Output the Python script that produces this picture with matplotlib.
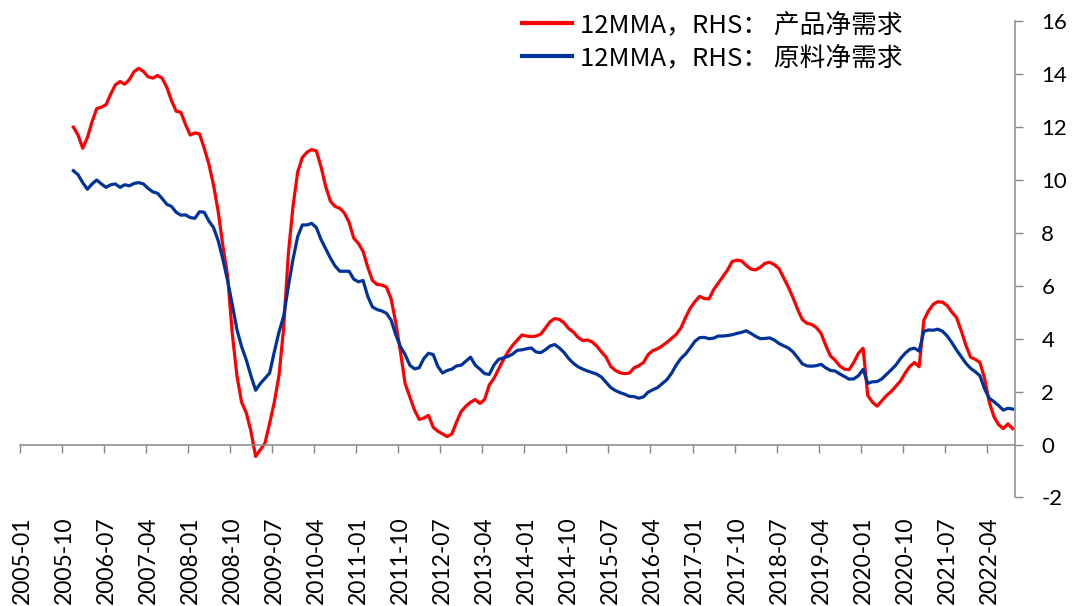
import matplotlib
matplotlib.use('Agg')
import matplotlib.pyplot as plt
import numpy as np
import pandas as pd

# 월별 데이터 (12MMA), 2005-12 ~ 2022-09
axis_start = '2005-01'
data_start = '2005-12'
data_end = '2022-09'

product_net = [
    12.0, 11.7, 11.2, 11.6, 12.2, 12.7, 12.75, 12.85, 13.25, 13.6,
    13.72, 13.62, 13.8, 14.1, 14.22, 14.1, 13.9, 13.85, 13.95, 13.85,
    13.5, 13.0, 12.6, 12.56, 12.1, 11.7, 11.78, 11.74, 11.2, 10.6,
    9.8, 8.8, 7.5, 6.4, 4.2, 2.6, 1.6, 1.2, 0.5, -0.45,
    -0.2, 0.05, 0.8, 1.6, 2.6, 4.4, 7.2, 9.0, 10.3, 10.85,
    11.05, 11.15, 11.1, 10.5, 9.75, 9.2, 9.0, 8.93, 8.75, 8.4,
    7.8, 7.6, 7.3, 6.7, 6.2, 6.05, 6.03, 5.95, 5.5, 4.6,
    3.5, 2.3, 1.8, 1.3, 0.95, 1.0, 1.1, 0.65, 0.5, 0.4,
    0.3, 0.4, 0.85, 1.25, 1.45, 1.6, 1.7, 1.55, 1.7, 2.25,
    2.5, 2.85, 3.2, 3.5, 3.75, 3.95, 4.14, 4.1, 4.08, 4.1,
    4.17, 4.4, 4.64, 4.76, 4.73, 4.6, 4.38, 4.25, 4.05, 3.93,
    3.95, 3.88, 3.72, 3.5, 3.3, 2.95, 2.8, 2.71, 2.68, 2.7,
    2.9, 2.98, 3.1, 3.4, 3.55, 3.62, 3.73, 3.86, 4.01, 4.16,
    4.4, 4.8, 5.15, 5.4, 5.6, 5.52, 5.5, 5.85, 6.1, 6.35,
    6.6, 6.92, 6.97, 6.94, 6.77, 6.63, 6.6, 6.7, 6.85, 6.89,
    6.8, 6.65, 6.3, 5.95, 5.55, 5.1, 4.72, 4.58, 4.54, 4.42,
    4.2, 3.75, 3.35, 3.19, 2.97, 2.85, 2.83, 3.1, 3.45, 3.64,
    1.85, 1.6, 1.45, 1.65, 1.85, 2.0, 2.2, 2.4, 2.7, 2.95,
    3.1, 2.94, 4.7, 5.05, 5.3, 5.4, 5.38, 5.25, 5.0, 4.8,
    4.3, 3.75, 3.3, 3.22, 3.1, 2.5, 1.6, 1.05, 0.75, 0.6,
    0.78, 0.6,
]

material_net = [
    10.35, 10.2, 9.9, 9.65, 9.85, 10.0, 9.85, 9.72, 9.82, 9.85,
    9.72, 9.82, 9.78, 9.87, 9.9, 9.85, 9.68, 9.55, 9.5, 9.3,
    9.08, 9.0, 8.78, 8.67, 8.68, 8.58, 8.55, 8.8, 8.78, 8.45,
    8.2, 7.7, 7.0, 6.2, 5.3, 4.35, 3.7, 3.2, 2.6, 2.05,
    2.3, 2.5, 2.7, 3.5, 4.25, 4.85, 5.97, 7.0, 7.86, 8.3,
    8.3, 8.36, 8.2, 7.75, 7.4, 7.05, 6.75, 6.55, 6.55, 6.55,
    6.25, 6.15, 6.2, 5.6, 5.2, 5.1, 5.05, 4.96, 4.7, 4.15,
    3.7, 3.4, 3.0, 2.86, 2.9, 3.25, 3.45, 3.4, 2.95, 2.7,
    2.8, 2.85, 2.97, 3.0, 3.15, 3.3, 3.0, 2.85, 2.68, 2.65,
    3.0, 3.22, 3.27, 3.33, 3.42, 3.56, 3.58, 3.62, 3.65, 3.5,
    3.47, 3.58, 3.72, 3.78, 3.65, 3.48, 3.25, 3.07, 2.94, 2.85,
    2.78, 2.72, 2.66, 2.55, 2.35, 2.15, 2.04, 1.96, 1.9, 1.82,
    1.81, 1.75, 1.8, 1.98, 2.07, 2.15, 2.3, 2.45, 2.69, 3.0,
    3.25, 3.42, 3.65, 3.9, 4.04, 4.05, 4.0, 4.02, 4.1, 4.1,
    4.12, 4.15, 4.2, 4.24, 4.3, 4.2, 4.09, 4.0, 4.01, 4.03,
    3.95, 3.82, 3.73, 3.65, 3.5, 3.28, 3.05, 2.97, 2.96, 2.98,
    3.03, 2.9, 2.8, 2.78, 2.67, 2.57, 2.47, 2.48, 2.6, 2.84,
    2.31, 2.37, 2.38, 2.48, 2.65, 2.82, 3.0, 3.25, 3.45, 3.6,
    3.64, 3.53, 4.28, 4.33, 4.32, 4.36, 4.28, 4.1, 3.85, 3.57,
    3.32, 3.07, 2.88, 2.75, 2.6, 2.1, 1.75, 1.62, 1.47, 1.3,
    1.37, 1.34,
]

label_product = '12MMA，RHS： 产品净需求'
label_material = '12MMA，RHS： 原料净需求'
y_ticks = list(range(-2, 17, 2))
tick_step = 9

# 카테고리 축 (월)
months_all = pd.period_range(axis_start, data_end, freq='M')
months_data = pd.period_range(data_start, data_end, freq='M')
x_all = np.arange(len(months_all))
x_data = x_all[-len(months_data):]

gray = '#888888'

fig = plt.figure(figsize=(10.72, 6.06), dpi=100)
ax = fig.add_axes([0.0183, 0.1792, 0.9285, 0.7857])

ax.plot(x_data, product_net, color='#FF0000', lw=2.3, label=label_product)
ax.plot(x_data, material_net, color='#003399', lw=2.3, label=label_material)

ax.set_xlim(-0.5, len(months_all) - 0.5)
ax.set_ylim(-2, 16)

# 오른쪽 y축
ax.yaxis.tick_right()
ax.set_yticks(y_ticks)
ax.set_yticklabels([str(v) for v in y_ticks], family='Lato', fontsize=16)
ax.tick_params(axis='y', direction='out', length=6, width=1, color=gray, pad=13)

for s in ['left', 'top']:
    ax.spines[s].set_visible(False)
ax.spines['right'].set_color(gray)
ax.spines['right'].set_linewidth(1.1)
ax.spines['bottom'].set_position(('data', 0))
ax.spines['bottom'].set_color(gray)
ax.spines['bottom'].set_linewidth(1.1)

# x축 눈금 (0 위치), 라벨은 아래쪽
tick_pos = x_all[::tick_step]
ax.set_xticks(tick_pos - 0.5)
ax.set_xticklabels([])
ax.tick_params(axis='x', direction='out', length=6, width=1, color=gray)
for p in tick_pos:
    ax.text(p, -2.72, months_all[p].strftime('%Y-%m'), rotation=90,
            ha='center', va='top', fontsize=16.5, family='Lato', clip_on=False)

leg = ax.legend(loc='upper left', bbox_to_anchor=(0.5047, 1.019), frameon=False,
                prop={'family': ['Noto Sans CJK SC', 'DejaVu Sans'], 'size': 18.5},
                handlelength=1.95, handletextpad=0.3, labelspacing=0.27,
                borderaxespad=0, borderpad=0)
for h in leg.get_lines():
    h.set_linewidth(3)

plt.savefig('out.png', dpi=100)
